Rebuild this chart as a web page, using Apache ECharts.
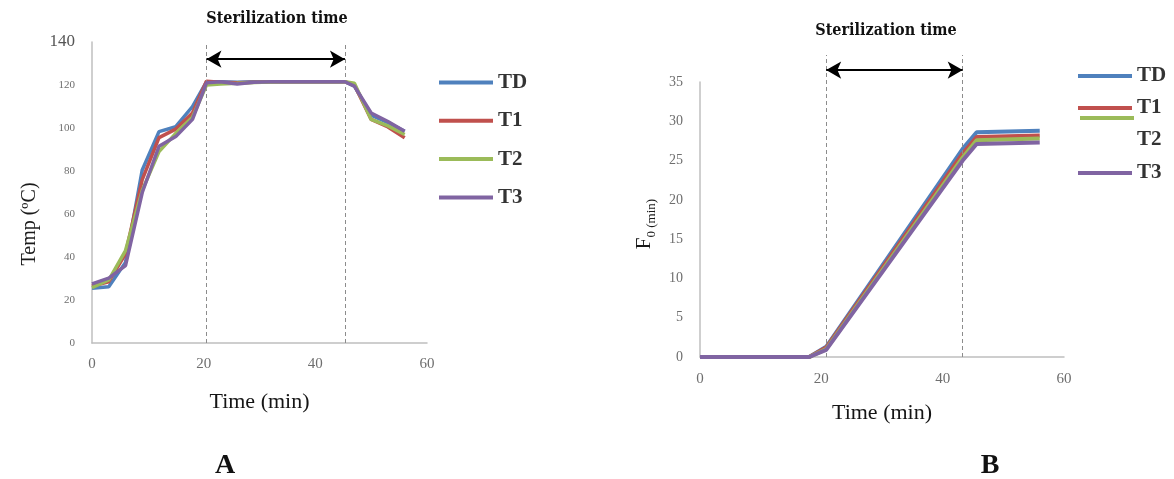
<!DOCTYPE html>
<html>
<head>
<meta charset="utf-8">
<script src="https://cdn.jsdelivr.net/npm/echarts@6/dist/echarts.min.js"></script>
<style>
  html, body { margin: 0; padding: 0; background: #ffffff; }
  #chart { width: 1174px; height: 479px; }
</style>
</head>
<body>
<div id="chart"></div>
<script>
// Panel A: retort temperature during processing (min, °C)
const tempTime = [0, 3, 6, 9, 12, 15, 18, 20.5, 23, 26, 29, 32, 35, 38, 41, 44, 45.3, 47, 50, 53, 56];
const tempTD = [25.5, 26.2, 37.5, 80.5, 98.3, 100.6, 110, 121.5, 121.5, 121.3, 121.5, 121.5, 121.5, 121.5, 121.5, 121.5, 121.5, 119.5, 106, 102.5, 98.5];
const tempT1 = [26.5, 28.5, 41.5, 76, 95.5, 99.5, 107, 121.8, 121.3, 121, 121.3, 121.5, 121.5, 121.5, 121.5, 121.5, 121.5, 120, 104, 100.5, 95.5];
const tempT2 = [25.8, 29.3, 43, 71, 89, 97.5, 105, 120, 120.5, 120.8, 121.2, 121.4, 121.5, 121.5, 121.5, 121.5, 121.5, 120.8, 104, 101, 97];
const tempT3 = [27.5, 30.2, 36, 70, 91.5, 96, 104, 121, 121.5, 120.5, 121.3, 121.5, 121.5, 121.5, 121.5, 121.5, 121.5, 119.5, 107, 103, 98.5];

// Panel B: accumulated lethality F0 (min)
const f0Time = [0, 18, 20.8, 43.3, 45.6, 56];
const f0TD = [0, 0, 1.3, 26.5, 28.6, 28.8];
const f0T1 = [0, 0, 1.2, 25.9, 28.0, 28.2];
const f0T2 = [0, 0, 1.0, 25.4, 27.6, 27.8];
const f0T3 = [0, 0, 0.9, 25.0, 27.1, 27.3];

// Holding phase limits (min)
const holdA = [20.5, 45.3];
const holdB = [20.8, 43.3];

const seriesNames = ['TD', 'T1', 'T2', 'T3'];
const colors = ['#4F81BD', '#C0504D', '#9BBB59', '#8064A2'];

const pairs = (t, v) => t.map((x, i) => [x, v[i]]);

const SERIF = '"Liberation Serif", "DejaVu Serif", serif';
const AXIS_LINE = { show: true, lineStyle: { color: '#BFBFBF', width: 1.5 } };

const chart = echarts.init(document.getElementById('chart'), null, { renderer: 'canvas' });

const tempSets = [tempTD, tempT1, tempT2, tempT3];
const f0Sets = [f0TD, f0T1, f0T2, f0T3];

const series = [];
seriesNames.forEach((name, i) => {
  series.push({
    name, type: 'line', xAxisIndex: 0, yAxisIndex: 0,
    data: pairs(tempTime, tempSets[i]),
    symbol: 'none', smooth: false,
    lineStyle: { width: 3.5, color: colors[i] },
    itemStyle: { color: colors[i] },
    z: 3 + i
  });
});
seriesNames.forEach((name, i) => {
  series.push({
    name, type: 'line', xAxisIndex: 1, yAxisIndex: 1,
    data: pairs(f0Time, f0Sets[i]),
    symbol: 'none', smooth: false,
    lineStyle: { width: 4, color: colors[i] },
    itemStyle: { color: colors[i] },
    z: 3 + i
  });
});

const dashed = { color: '#8C8C8C', width: 1, type: [4, 3] };
const arrowStyle = { color: '#000000', width: 2, type: 'solid' };

// Holding-phase guides for panel A, on the temperature scale
series.push({
  name: 'holdA', type: 'line', xAxisIndex: 0, yAxisIndex: 0,
  data: [], symbol: 'none', z: 1,
  markLine: {
    silent: true, symbol: 'none', label: { show: false },
    animation: false,
    data: [
      { xAxis: holdA[0], lineStyle: dashed },
      { xAxis: holdA[1], lineStyle: dashed },
      [
        { coord: [holdA[0], 132], symbol: 'arrow', symbolSize: [13, 15], lineStyle: arrowStyle },
        { coord: [holdA[1], 132], symbol: 'arrow', symbolSize: [13, 15] }
      ]
    ]
  }
});

// Holding-phase guides for panel B, on a taller overlay scale
series.push({
  name: 'holdB', type: 'line', xAxisIndex: 2, yAxisIndex: 2,
  data: [], symbol: 'none', z: 1,
  markLine: {
    silent: true, symbol: 'none', label: { show: false },
    animation: false,
    data: [
      [{ coord: [holdB[0], 0], lineStyle: dashed }, { coord: [holdB[0], 100] }],
      [{ coord: [holdB[1], 0], lineStyle: dashed }, { coord: [holdB[1], 100] }],
      [
        { coord: [holdB[0], 95], symbol: 'arrow', symbolSize: [13, 15], lineStyle: arrowStyle },
        { coord: [holdB[1], 95], symbol: 'arrow', symbolSize: [13, 15] }
      ]
    ]
  }
});

const legendText = { fontFamily: SERIF, fontWeight: 'bold', fontSize: 21, color: '#333333' };
const legendBase = {
  orient: 'vertical', selectedMode: false, padding: 0,
  itemWidth: 54, itemHeight: 14,
  itemStyle: { opacity: 0 },
  lineStyle: { width: 4 },
  textStyle: legendText
};

const TITLE_FONT = 'bold 16px "DejaVu Serif Condensed", "DejaVu Serif", serif';

const option = {
  animation: false,
  backgroundColor: '#ffffff',
  grid: [
    { left: 92, top: 42, width: 335, height: 301, containLabel: false },
    { left: 700, top: 82, width: 364, height: 275, containLabel: false },
    { left: 700, top: 55, width: 364, height: 302, containLabel: false }
  ],
  xAxis: [
    {
      type: 'value', gridIndex: 0, min: 0, max: 60, interval: 20,
      axisLine: AXIS_LINE, axisTick: { show: false }, splitLine: { show: false },
      axisLabel: { fontFamily: SERIF, fontSize: 15, color: '#6E6E6E', margin: 14 },
      name: 'Time (min)', nameLocation: 'middle', nameGap: 48,
      nameTextStyle: { fontFamily: SERIF, fontSize: 22, color: '#151515' }
    },
    {
      type: 'value', gridIndex: 1, min: 0, max: 60, interval: 20,
      axisLine: AXIS_LINE, axisTick: { show: false }, splitLine: { show: false },
      axisLabel: { fontFamily: SERIF, fontSize: 15, color: '#6E6E6E', margin: 15 },
      name: 'Time (min)', nameLocation: 'middle', nameGap: 45,
      nameTextStyle: { fontFamily: SERIF, fontSize: 22, color: '#151515' }
    },
    {
      type: 'value', gridIndex: 2, min: 0, max: 60, show: false
    }
  ],
  yAxis: [
    {
      type: 'value', gridIndex: 0, min: 0, max: 140, interval: 20,
      axisLine: AXIS_LINE, axisTick: { show: false }, splitLine: { show: false },
      axisLabel: {
        margin: 17,
        formatter: v => (v === 140 ? '{big|140}' : '{small|' + v + '}'),
        rich: {
          big: { fontFamily: SERIF, fontSize: 17, color: '#555555' },
          small: { fontFamily: SERIF, fontSize: 11, color: '#6E6E6E' }
        }
      }
    },
    {
      type: 'value', gridIndex: 1, min: 0, max: 35, interval: 5,
      axisLine: AXIS_LINE, axisTick: { show: false }, splitLine: { show: false },
      axisLabel: { fontFamily: SERIF, fontSize: 14, color: '#6E6E6E', margin: 17 }
    },
    {
      type: 'value', gridIndex: 2, min: 0, max: 100, show: false
    }
  ],
  legend: [
    Object.assign({}, legendBase, {
      left: 437, top: 72, itemGap: 17.3,
      data: seriesNames
    }),
    Object.assign({}, legendBase, {
      left: 1076, top: 65.5, itemGap: 11,
      data: ['TD', 'T1']
    }),
    Object.assign({}, legendBase, {
      left: 1076, top: 129.5, itemGap: 12,
      data: [
        { name: 'T2', lineStyle: { opacity: 0 } },
        'T3'
      ]
    }),
    Object.assign({}, legendBase, {
      left: 1078, top: 111,
      data: ['T2'], formatter: () => ''
    })
  ],
  graphic: [
    {
      type: 'text', x: 277, y: 19,
      style: { text: 'Sterilization time', font: TITLE_FONT, fill: '#111111', textAlign: 'center', textVerticalAlign: 'middle' }
    },
    {
      type: 'text', x: 886, y: 31,
      style: { text: 'Sterilization time', font: TITLE_FONT, fill: '#111111', textAlign: 'center', textVerticalAlign: 'middle' }
    },
    {
      type: 'text', x: 30, y: 224, rotation: Math.PI / 2,
      style: { text: 'Temp (ºC)', font: '20px ' + SERIF, fill: '#1a1a1a', textAlign: 'center', textVerticalAlign: 'middle' }
    },
    {
      type: 'text', x: 644, y: 224, rotation: Math.PI / 2,
      style: {
        text: '{f|F}{s|0 (min)}',
        textAlign: 'center', textVerticalAlign: 'middle',
        rich: {
          f: { fontFamily: SERIF, fontSize: 21, fill: '#1a1a1a', color: '#1a1a1a', verticalAlign: 'bottom' },
          s: { fontFamily: SERIF, fontSize: 13, fill: '#1a1a1a', color: '#1a1a1a', verticalAlign: 'bottom', padding: [0, 0, -4, 0] }
        }
      }
    },
    {
      type: 'text', x: 225, y: 466,
      style: { text: 'A', font: 'bold 28px ' + SERIF, fill: '#111111', textAlign: 'center', textVerticalAlign: 'middle' }
    },
    {
      type: 'text', x: 990, y: 466,
      style: { text: 'B', font: 'bold 28px ' + SERIF, fill: '#111111', textAlign: 'center', textVerticalAlign: 'middle' }
    }
  ],
  series
};

chart.setOption(option);
</script>
</body>
</html>
